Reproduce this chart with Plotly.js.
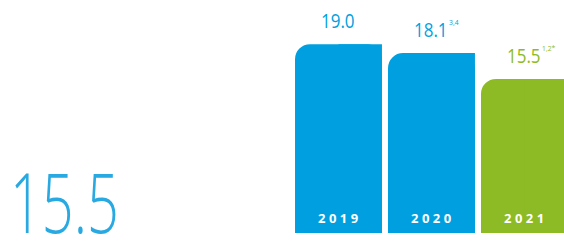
<!DOCTYPE html>
<html><head><meta charset="utf-8">
<script src="https://cdn.plot.ly/plotly-3.0.1.min.js"></script>
<style>html,body{margin:0;padding:0;background:#fff;}</style>
</head><body><div id="chart" style="width:564px;height:242px;"></div>
<script>
const years = ['2019', '2020', '2021'];
const values = [19.0, 18.1, 15.5];
const valueLabels = ['19.0', '18.1', '15.5'];
const footnotes = ['', '3,4', '1,2*'];
const barColors = ['#00a0e0', '#00a0e0', '#8dbb25'];
const headline = '15.5';

const bw = 0.935;
const traces = [
  {type:'bar', x:[0,1,2], y:values, width:bw, offset:-bw/2,
   marker:{color:barColors, cornerradius:15, line:{width:0}}, hoverinfo:'skip'},
  {type:'bar', x:[0,1,2], y:values, width:bw/2, offset:0,
   marker:{color:barColors, line:{width:0}}, hoverinfo:'skip'}
];
const numFont = 'Open Sans, sans-serif';
const ann = [];
const squeeze = [];
years.forEach((yr,i)=>{
  ann.push({x:i, y:0, xref:'x', yref:'y', text:yr.split('').join('\u2009\u200a'), showarrow:false,
    yanchor:'middle', yshift:15, font:{family:'Open Sans, sans-serif', size:13, color:'#ffffff', weight:700}});
  squeeze.push(null);
  ann.push({x:i, y:values[i], xref:'x', yref:'y', text:valueLabels[i], showarrow:false,
    yanchor:'bottom', yshift:8, font:{family:numFont, size:20, color:barColors[i], weight:500}});
  squeeze.push(['center', 0.85]);
  if (footnotes[i]) {
    ann.push({x:i, y:values[i], xref:'x', yref:'y', text:footnotes[i], showarrow:false,
      xanchor:'left', yanchor:'bottom', xshift:16, yshift:24, font:{family:numFont, size:8, color:barColors[i]}});
    squeeze.push(['left', 0.85]);
  }
});
ann.push({x:0, y:0, xref:'paper', yref:'paper', text:headline, showarrow:false,
  xanchor:'left', yanchor:'bottom', xshift:8, yshift:-26,
  font:{family:numFont, size:82, color:'#29a9e1', weight:300}});
squeeze.push(['left', 0.68]);

const layout = {
  width:564, height:242, margin:{l:0,r:0,t:0,b:9},
  paper_bgcolor:'#ffffff', plot_bgcolor:'#ffffff',
  barmode:'overlay', showlegend:false,
  xaxis:{range:[-3.64, 2.425], visible:false, fixedrange:true},
  yaxis:{range:[0, 23.44], visible:false, fixedrange:true},
  annotations: ann
};
Plotly.newPlot('chart', traces, layout, {staticPlot:true, displayModeBar:false}).then(gd=>{
  gd.querySelectorAll('g.annotation').forEach(g=>{
    const idx = +g.getAttribute('data-index');
    const s = squeeze[idx];
    if (!s) return;
    const t = g.querySelector('text');
    if (!t) return;
    t.style.transformBox = 'fill-box';
    t.style.transformOrigin = s[0] === 'left' ? 'left center' : 'center center';
    t.style.transform = 'scaleX(' + s[1] + ')';
  });
});
</script></body></html>
